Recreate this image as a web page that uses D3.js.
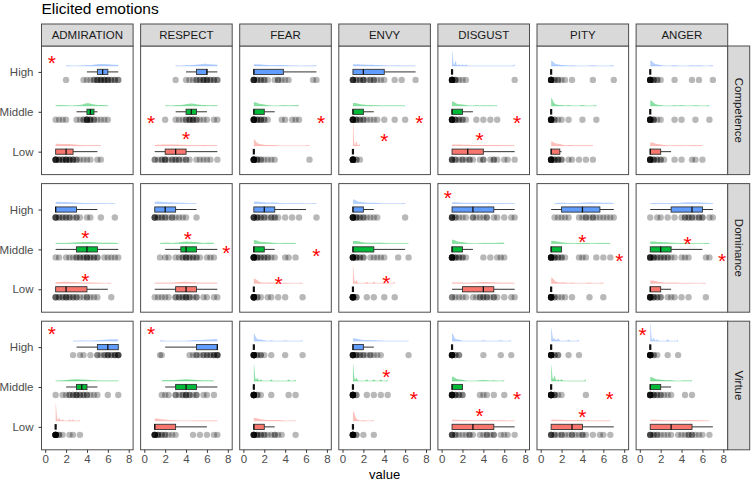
<!DOCTYPE html>
<html>
<head>
<meta charset="utf-8">
<script src="https://cdn.jsdelivr.net/npm/d3@7"></script>
<style>
  body { margin: 0; background: #fff; }
  svg { font-family: "Liberation Sans", Arial, sans-serif; }
</style>
</head>
<body>
<svg id="chart" width="752" height="482"></svg>
<script>
const emotions = ["ADMIRATION", "RESPECT", "FEAR", "ENVY", "DISGUST", "PITY", "ANGER"];
const dimensions = ["Competence", "Dominance", "Virtue"];
const levels = ["Low", "Middle", "High"];
const levelColors = ["#F8766D", "#00BA38", "#619CFF"];
const xTicks = [0, 2, 4, 6, 8];

// box stats per emotion, [Low, Middle, High], each [lower whisker, q1, median, q3, upper whisker]
const boxCompetence = [
  [[1, 1, 2, 2.67, 5], [3, 4, 4.33, 4.67, 5], [4, 5, 5.5, 6, 7]],
  [[1, 2, 3, 4, 7], [3, 4, 4.5, 5, 6], [4, 5, 6, 6, 7]],
  [[1, 1, 1, 1, 1], [1, 1, 1, 2, 3], [1, 1, 1, 3.83, 7]],
  [[1, 1, 1, 1, 1], [1, 1, 1, 2, 3], [1, 1, 2, 4, 7]],
  [[1, 1, 2.5, 4, 7], [1, 1, 1, 2, 3], [1, 1, 1, 1, 1]],
  [[1, 1, 1, 1.83, 2], [1, 1, 1, 1, 1], [1, 1, 1, 1, 1]],
  [[1, 1, 1, 2, 3], [1, 1, 1, 1, 1], [1, 1, 1, 1, 1]]
];
const boxDominance = [
  [[1, 1, 2, 4, 6], [1, 3, 4, 5, 7], [1, 1, 1, 3, 5]],
  [[1, 3, 4, 5, 7], [2, 3.5, 4, 5, 7], [1, 1, 2, 3, 5]],
  [[1, 1, 1, 1, 1], [1, 1, 1, 2, 3], [1, 1, 2, 3, 6]],
  [[1, 1, 1, 1, 1], [1, 1, 1, 3, 6], [1, 1, 1, 2, 3]],
  [[1, 2, 4, 5, 7], [1, 1, 1, 2, 3], [1, 1, 3, 5, 7]],
  [[1, 1, 1, 1, 1], [1, 1, 1, 2, 2], [1, 2, 4, 5.67, 7]],
  [[1, 1, 1, 2, 3], [1, 1, 2, 3, 6], [1, 3, 5, 6, 7]]
];
const boxVirtue = [
  [[1, 1, 1, 1, 1], [2, 3, 3.5, 4, 5], [3, 5, 6, 7, 7]],
  [[1, 1, 1, 3, 6], [2, 3, 4, 5, 7], [2, 5, 7, 7, 7]],
  [[1, 1, 1, 2, 3], [1, 1, 1, 1, 1], [1, 1, 1, 1, 1]],
  [[1, 1, 1, 1, 1], [1, 1, 1, 1, 1], [1, 1, 1, 2, 3]],
  [[1, 1, 3, 5, 7], [1, 1, 1, 2, 2], [1, 1, 1, 1, 1]],
  [[1, 1, 3, 4, 7], [1, 1, 1, 1, 1], [1, 1, 1, 1, 1]],
  [[1, 1, 3, 5, 7], [1, 1, 1, 2, 3], [1, 1, 1, 1, 1]]
];

// individual ratings per emotion, [Low, Middle, High]; "v*n" = n ratings at v
const ptsCompetence = [
  ["1*6 1.33*3 1.67*3 2*4 2.33*3 2.67*3 3*2 3.33 3.67 4 4.33 5 5.33",
   "1 1.33 1.67 2 3 3.33 3.67*2 4*5 4.33*3 4.67*2 5 5.33 5.67 6",
   "2 3.67 4 4.33 4.67*2 5*3 5.33*3 5.67*3 6*3 6.33*2 6.67*2 7*2"],
  ["1*2 1.33 1.67*2 2*3 2.33 2.67*2 3*2 3.33*2 3.67 4*2 4.33 5 5.33 5.67 6 6.33 7",
   "2 3 3.33 3.67 4*2 4.33*3 4.67*3 5*2 5.33 5.67 6 6.67 7",
   "3 4 4.33 4.67 5*2 5.33*2 5.67*3 6*3 6.33*2 6.67*2 7*2"],
  ["1*10 1.33*3 1.67*2 2 2.33 2.67 3 6.33",
   "1*9 1.33*3 1.67*3 2*2 2.33 3.67 4 4.67 5 5.33",
   "1*6 1.33*2 1.67*2 2*2 2.33 3 3.33*2 3.67 4 4.33 6.67 7"],
  ["1*12 1.33*2 1.67",
   "1*8 1.33*3 1.67*2 2*2 2.33 2.67 3 3.33 4 5 6",
   "1*5 1.33*2 1.67*2 2*3 2.33 2.67*2 3*2 3.33 3.67 4 5 5.67 7"],
  ["1*4 1.33*2 1.67 2*2 2.33 2.67*2 3 3.67 4*2 4.67 5*2 5.33 6 6.33 7",
   "1*9 1.33*3 1.67*2 2*2 2.33 3.33 4 4.67 5.33",
   "1*10 1.33*3 1.67 2 2.33 7"],
  ["1*9 1.33*3 1.67*3 2*2 2.67 3 3.67 4.33 5",
   "1*10 1.33*2 1.67 2 2.67 4 5.33",
   "1*9 1.33*2 1.67*2 2 2.33 3 5 7"],
  ["1*8 1.33*3 1.67*2 2*2 2.33 3.33 4 5 5.33 6",
   "1*9 1.33*3 1.67 2 3.33 4 5.33 6.67",
   "1*9 1.33*3 1.67*2 2 3.33 5 5.67 7"]
];
const ptsDominance = [
  ["1*3 1.33*2 1.67*2 2*3 2.33*2 2.67*2 3*2 3.33 3.67 4*2 4.33 4.67 5 6.33",
   "1 1.33 2 2.33 2.67 3*2 3.33*2 3.67*2 4*3 4.33*2 4.67*2 5*2 5.67 6 6.33 6.67 7",
   "1*4 1.33*2 1.67*2 2*2 2.33*2 2.67 3*2 3.33 4 4.33 5.33 6.67"],
  ["1 1.33 1.67 2 2.33 3*2 3.33*2 3.67*2 4*3 4.33*2 4.67 5*2 5.67 6 6.67 7",
   "1.5 2 2.33 3 3.33 3.67*2 4*3 4.33*2 4.67*2 5*2 5.33 6 6.33 6.67",
   "1*4 1.33*2 1.67*2 2*2 2.33 2.67*2 3 3.33 3.67 4 5"],
  ["1*10 1.33*2 1.67 2.33 2.67 3.33 4 5.67",
   "1*9 1.33*3 1.67*2 2*2 2.33*2 2.67 3 4 4.33 5",
   "1*5 1.33*3 1.67*2 2*2 2.33 2.67*2 3*2 3.33 4 4.67 5.33 7"],
  ["1*12 1.33*2 2.33 3 4 5",
   "1*8 1.33*3 1.67*2 2*2 2.67 3 3.33 3.67 4 5.33 6.33",
   "1*8 1.33*3 1.67*2 2*2 2.33 2.67 3 3.33 6"],
  ["1*2 1.33 1.67 2 2.33 3 3.33 3.67*2 4*2 4.33*2 4.67 5*2 5.33 6 6.67 7",
   "1*9 1.33*3 1.67*2 2*2 2.33 4 4.67 5.33 5.67 6",
   "1*5 1.33*2 1.67 2 2.33 3*2 3.33 3.67 4 4.33*2 5 5.33 6 6.67 7"],
  ["1*10 1.33*2 1.67 2 2.33 3 4.67 6",
   "1*9 1.33*3 1.67*2 2*2 2.33 3.67 4 4.33 5.33 6 6.67",
   "1.33 1.67 2 2.33 2.67 3.67 4 4.33*2 4.67 5*2 5.33 5.67 6 6.33 6.67 7"],
  ["1*8 1.33*3 1.67*2 2*2 2.67 3 3.33 4 4.67 6.33",
   "1*6 1.33*3 1.67*2 2*2 2.33*2 2.67*2 3 3.33 4 4.33 4.67 6.33 6.67",
   "1 1.67 2 2.67 3.33 4 4.33*2 4.67*2 5*2 5.33 5.67*2 6*2 6.67 7"]
];
const ptsVirtue = [
  ["1*12 1.33*2 1.67 2.33 2.67 3.33",
   "1 1.67 2 2.33*2 2.67*2 3*3 3.33*2 3.67*2 4*2 4.33 4.67 5 6 7",
   "2.67 3.33 3.67 4.33 5*2 5.33 5.67*2 6*3 6.33*2 6.67*3 7*4"],
  ["1*7 1.33*3 1.67*2 2*2 2.33 2.67 3 4.67 5.33 6 6.67 7",
   "1.67 2 2.33 3*2 3.33 3.67*2 4*3 4.33*2 4.67 5*2 5.67 6 6.67",
   "1.5 1.67 4.33 4.67 5*2 5.33 5.67*2 6*2 6.33*2 6.67*3 7*4"],
  ["1*8 1.33*3 1.67*2 2*2 2.33 2.67 3*2 3.33 3.67 5",
   "1*11 1.33*2 1.67 2.67 4.33 5",
   "1*10 1.33*2 1.67*2 2 2.67 4 5.67"],
  ["1*13 1.33*2 2 3",
   "1*11 1.33*2 2.33 3 3.67 4.33",
   "1*8 1.33*3 1.67*2 2*2 2.33 2.67*2 3 3.33 3.67 6.33"],
  ["1*4 1.33*2 1.67 2 2.33 2.67*2 3 3.67 4 4.33*2 4.67 5*2 5.67 6 6.33 7",
   "1*9 1.33*3 1.67*2 2*2 3.67 4 4.33 5 6",
   "1*10 1.33*2 1.67*2 4 5.67 6.67"],
  ["1*4 1.33*2 1.67 2*2 2.33 2.67 3*2 3.33 3.67 4*2 4.33 5 5.67 6 6.67",
   "1*10 1.33*3 1.67 2 4.33",
   "1*10 1.33*2 1.67*2 2.67 3.67"],
  ["1*4 1.33*2 1.67*2 2 2.33 2.67 3 3.67 4 4.33 4.67*2 5*2 5.33 5.67 6 6.67",
   "1*8 1.33*3 1.67*2 2*2 2.33 2.67 3 4.33 5",
   "1*11 1.33*2 1.67 2.67 3.67"]
];

// significance markers: [emotion, dimension, value, level position]
const stars = [
  ["ADMIRATION", "Competence", 0.64, 3.34],
  ["RESPECT", "Competence", 0.66, 1.83], ["RESPECT", "Competence", 4.0, 1.43],
  ["FEAR", "Competence", 7.44, 1.82],
  ["ENVY", "Competence", 7.37, 1.83], ["ENVY", "Competence", 4.0, 1.38],
  ["DISGUST", "Competence", 7.23, 1.82], ["DISGUST", "Competence", 3.64, 1.4],
  ["ADMIRATION", "Dominance", 3.84, 2.41], ["ADMIRATION", "Dominance", 3.84, 1.33],
  ["RESPECT", "Dominance", 4.18, 2.38], ["RESPECT", "Dominance", 7.87, 2.01],
  ["FEAR", "Dominance", 7.0, 1.95], ["FEAR", "Dominance", 3.37, 1.24],
  ["ENVY", "Dominance", 4.2, 1.28],
  ["DISGUST", "Dominance", 0.6, 3.39],
  ["PITY", "Dominance", 3.99, 2.29], ["PITY", "Dominance", 7.54, 1.83],
  ["ANGER", "Dominance", 4.58, 2.25], ["ANGER", "Dominance", 7.89, 1.83],
  ["ADMIRATION", "Virtue", 0.64, 3.43],
  ["RESPECT", "Virtue", 0.66, 3.43],
  ["ENVY", "Virtue", 4.2, 2.36], ["ENVY", "Virtue", 6.83, 1.8],
  ["DISGUST", "Virtue", 7.23, 1.8], ["DISGUST", "Virtue", 3.64, 1.38],
  ["PITY", "Virtue", 6.6, 1.8], ["PITY", "Virtue", 4.0, 1.36],
  ["ANGER", "Virtue", 0.26, 3.41]
];

const boxes = [boxCompetence, boxDominance, boxVirtue];
const points = [ptsCompetence, ptsDominance, ptsVirtue];

const svg = d3.select("#chart");
const marginLeft = 41.5, marginTop = 46;
const panelW = 91.6, panelH = 128.6, gapX = 7.5, gapY = 9;
const stripH = 22, stripW = 22;
const borderColor = "#4d4d4d";

const x = d3.scaleLinear().domain([-0.355, 8.42]).range([0, panelW]);
const y = d3.scaleLinear().domain([0.425, 3.65]).range([panelH, 0]);

function parsePts(s) {
  return s.split(" ").flatMap(tok => {
    const [v, n] = tok.split("*");
    return d3.range(+(n || 1)).map(() => +v);
  });
}

// rule-of-thumb bandwidth (like R's bw.nrd0)
function bandwidth(v) {
  const sd = d3.deviation(v);
  const iqr = d3.quantile(v, 0.75) - d3.quantile(v, 0.25);
  let lo = Math.min(sd, iqr / 1.349);
  if (!lo) lo = sd || 1;
  return 0.9 * lo * Math.pow(v.length, -0.2);
}

function density(values, bw) {
  const lo = d3.min(values), hi = d3.max(values);
  return d3.range(lo, hi + 1e-9, 0.02).map(t =>
    [t, d3.mean(values, v => Math.exp(-0.5 * ((t - v) / bw) ** 2)) / (bw * Math.sqrt(2 * Math.PI))]);
}

svg.append("text")
  .attr("x", marginLeft).attr("y", 14)
  .attr("font-size", 15.5).attr("fill", "#000")
  .text("Elicited emotions");

const area = d3.area().curve(d3.curveLinear);

dimensions.forEach((dim, r) => {
  emotions.forEach((emo, c) => {
    const g = svg.append("g")
      .attr("transform", `translate(${marginLeft + c * (panelW + gapX)}, ${marginTop + r * (panelH + gapY)})`);

    g.append("rect").attr("width", panelW).attr("height", panelH).attr("fill", "#fff");

    levels.forEach((lev, li) => {
      const Y = y(li + 1);
      const col = levelColors[li];
      const vals = parsePts(points[r][c][li]);

      // density slab
      const dens = density(vals, bandwidth(vals) * 0.6);
      g.append("path")
        .datum(dens)
        .attr("d", area.x(d => x(d[0])).y0(Y - 6).y1(d => Y - 6 - d[1] * 5))
        .attr("fill", col).attr("fill-opacity", 0.45);
      g.append("line")
        .attr("x1", x(dens[0][0])).attr("x2", x(dens[dens.length - 1][0]))
        .attr("y1", Y - 6).attr("y2", Y - 6)
        .attr("stroke", col).attr("stroke-opacity", 0.3).attr("stroke-width", 1);

      // box
      const [lo, q1, med, q3, hi] = boxes[r][c][li];
      g.append("line")
        .attr("x1", x(lo)).attr("x2", x(hi)).attr("y1", Y).attr("y2", Y)
        .attr("stroke", "#333").attr("stroke-width", 1);
      if (q3 > q1) {
        g.append("rect")
          .attr("x", x(q1)).attr("y", Y - 2.6)
          .attr("width", x(q3) - x(q1)).attr("height", 5.2)
          .attr("fill", col).attr("stroke", "#333").attr("stroke-width", 0.9);
      }
      g.append("line")
        .attr("x1", x(med)).attr("x2", x(med)).attr("y1", Y - 2.8).attr("y2", Y + 2.8)
        .attr("stroke", "#111").attr("stroke-width", q3 > q1 ? 1.3 : 2.2);

      // individual ratings
      g.selectAll(null)
        .data(vals)
        .join("circle")
        .attr("cx", d => x(d)).attr("cy", Y + 8).attr("r", 3.2)
        .attr("fill", "#000").attr("fill-opacity", 0.28);
    });

    stars.filter(s => s[0] === emo && s[1] === dim).forEach(s => {
      g.append("text")
        .attr("x", x(s[2])).attr("y", y(s[3]) + 11.5)
        .attr("text-anchor", "middle")
        .attr("font-size", 21).attr("fill", "#FF0000")
        .text("*");
    });

    g.append("rect").attr("width", panelW).attr("height", panelH)
      .attr("fill", "none").attr("stroke", borderColor).attr("stroke-width", 1);

    if (r === 0) {
      g.append("rect").attr("y", -stripH).attr("width", panelW).attr("height", stripH)
        .attr("fill", "#d9d9d9").attr("stroke", borderColor).attr("stroke-width", 1);
      g.append("text")
        .attr("x", panelW / 2).attr("y", -stripH / 2 + 4)
        .attr("text-anchor", "middle").attr("font-size", 11.5).attr("fill", "#1a1a1a")
        .text(emo);
    }
    if (c === emotions.length - 1) {
      g.append("rect").attr("x", panelW).attr("width", stripW).attr("height", panelH)
        .attr("fill", "#d9d9d9").attr("stroke", borderColor).attr("stroke-width", 1);
      g.append("text")
        .attr("transform", `translate(${panelW + stripW / 2 - 4}, ${panelH / 2}) rotate(90)`)
        .attr("text-anchor", "middle").attr("font-size", 11.5).attr("fill", "#1a1a1a")
        .text(dim);
    }
    if (c === 0) {
      const ax = g.append("g")
        .attr("color", "#4d4d4d")
        .call(d3.axisLeft(y).tickValues([1, 2, 3]).tickFormat(i => levels[i - 1])
          .tickSize(3).tickPadding(5));
      ax.select(".domain").remove();
      ax.selectAll("line").attr("stroke", "#333");
      ax.selectAll("text").attr("font-size", 11.5).attr("fill", "#4d4d4d")
        .attr("font-family", "Liberation Sans, Arial, sans-serif");
    }
    if (r === dimensions.length - 1) {
      const ax = g.append("g")
        .attr("color", "#4d4d4d")
        .attr("transform", `translate(0, ${panelH})`)
        .call(d3.axisBottom(x).tickValues(xTicks).tickSize(3).tickPadding(2));
      ax.select(".domain").remove();
      ax.selectAll("line").attr("stroke", "#333");
      ax.selectAll("text").attr("font-size", 11.5).attr("fill", "#4d4d4d")
        .attr("font-family", "Liberation Sans, Arial, sans-serif");
    }
  });
});

svg.append("text")
  .attr("x", marginLeft + (7 * panelW + 6 * gapX) / 2).attr("y", 479)
  .attr("text-anchor", "middle").attr("font-size", 13).attr("fill", "#000")
  .text("value");
</script>
</body>
</html>
